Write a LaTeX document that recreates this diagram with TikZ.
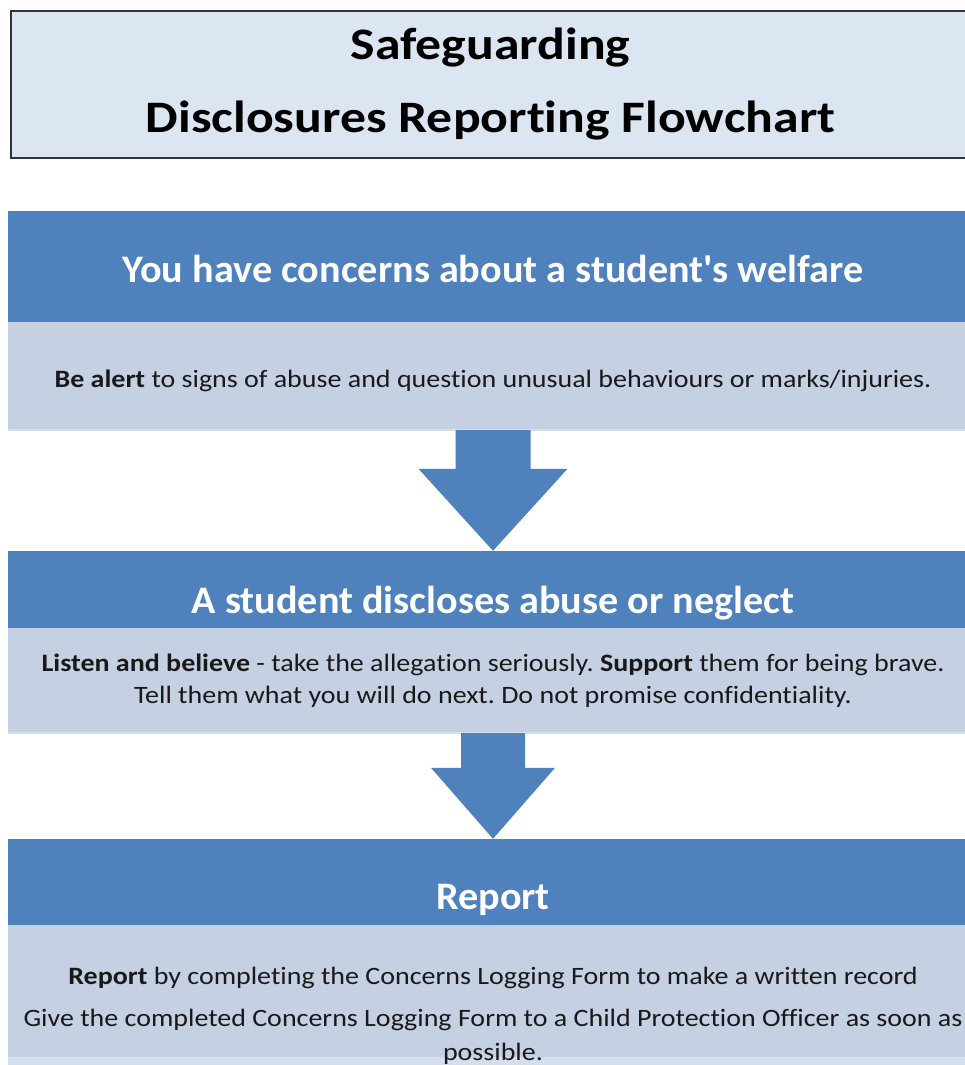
\documentclass[tikz,border=0pt]{standalone}
\usepackage{fontspec}
\setmainfont{Carlito}
\newfontfamily\titlefont[FakeStretch=1.15,Ligatures=NoCommon]{Carlito}
\newfontfamily\headfont[FakeStretch=1.03,Ligatures=NoCommon]{Carlito}
\newfontfamily\bodyfont[FakeStretch=1.12,Ligatures=NoCommon]{Carlito}
\usetikzlibrary{calc}

\definecolor{headblue}{RGB}{79,129,189}
\definecolor{bodyblue}{RGB}{197,208,227}
\definecolor{titleblue}{RGB}{220,230,242}
\definecolor{edgeblue}{RGB}{212,222,237}

\frenchspacing
\begin{document}
\begin{tikzpicture}[x=1pt,y=-1pt,
		title box/.style={rectangle,draw=black!80,line width=1.6pt,fill=titleblue,minimum width=959,minimum height=147,inner sep=0pt,align=center,font=\titlefont\bfseries\fontsize{45}{73}\selectfont},
		head box/.style={rectangle,fill=headblue,minimum width=970,inner sep=0pt,text=white,font=\headfont\bfseries\fontsize{39}{46}\selectfont},
		body box/.style={rectangle,fill=bodyblue,minimum width=970,inner sep=0pt,align=center,text=black!90,font=\bodyfont\fontsize{25}{32}\selectfont},
		block arrow/.style={fill=headblue},
		edge line/.style={edgeblue,line width=2pt}]
			\useasboundingbox (0,0) rectangle (965,1065);

			\node[title box] (title) at (490.5,84.5) {Safeguarding\\Disclosures Reporting Flowchart};

			\node[head box,minimum height=111,text height=71,text depth=40] (head1) at (493,266.5) {You have concerns about a student\textquotesingle s welfare};
			\node[body box,minimum height=108,text height=65,text depth=43] (body1) at (493,376) {\textbf{Be alert} to signs of abuse and question unusual behaviours or marks/injuries.};

			\node[head box,minimum height=77,text height=62,text depth=15] (head2) at (493,589.5) {A student discloses abuse or neglect};
			\node[body box,minimum height=105] (body2) at (493,680.5) {\textbf{Listen and believe} - take the allegation seriously. \textbf{Support} them for being brave.\\Tell them what you will do next. Do not promise confidentiality.};

			\node[head box,minimum height=86,text height=70,text depth=16] (head3) at (493,882) {Report};
			\node[body box,minimum height=132] (body3) at (493,991) {};
			\fill[edgeblue] (body3.south west) rectangle ($(body3.south east)+(0,8)$);
			\node[body box,fill=none,minimum width=0,anchor=north,font=\bodyfont\fontsize{25}{34}\selectfont] (body3text) at ($(body3.north)+(0,42)$) {\textbf{Report} by completing the Concerns Logging Form to make a written record\\[8pt]Give the completed Concerns Logging Form to a Child Protection Officer as soon as\\possible.};

			\foreach \b in {body1,body2}
				\draw[edge line] (\b.south west) -- (\b.south east);

			\foreach \from/\to/\shaft/\head/\len in {body1/head2/37.5/74.5/82,body2/head3/32/62/71}
				\fill[block arrow] ($(\from.south)+(-\shaft,0)$) -- ($(\from.south)+(\shaft,0)$) -- ($(\to.north)+(\shaft,-\len)$) -- ($(\to.north)+(\head,-\len)$) -- (\to.north) -- ($(\to.north)+(-\head,-\len)$) -- ($(\to.north)+(-\shaft,-\len)$) -- cycle;
		\end{tikzpicture}
\end{document}
